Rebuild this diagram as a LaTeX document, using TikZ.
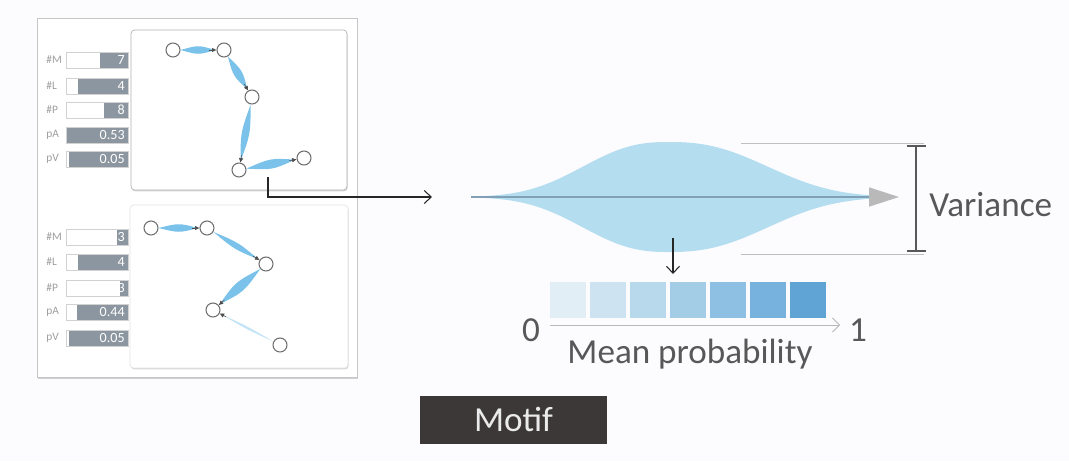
\documentclass[tikz,border=0pt]{standalone}
\usepackage{fontspec}
\setmainfont{Carlito}
\usepackage{tikz}
\usetikzlibrary{positioning,arrows.meta,calc,shadows}
\definecolor{EdgeBlue}{RGB}{122,194,234}
\definecolor{ViolinBlue}{RGB}{180,221,240}
\definecolor{MidLine}{RGB}{128,160,182}
\definecolor{BarGray}{RGB}{140,150,160}
\definecolor{TextGray}{RGB}{88,88,88}
\definecolor{MotifDark}{RGB}{60,56,56}
\definecolor{Cell1}{RGB}{225,238,246}
\definecolor{Cell2}{RGB}{205,227,242}
\definecolor{Cell3}{RGB}{184,216,236}
\definecolor{Cell4}{RGB}{163,205,230}
\definecolor{Cell5}{RGB}{141,192,226}
\definecolor{Cell6}{RGB}{118,178,221}
\definecolor{Cell7}{RGB}{96,163,213}

\newcommand{\lensedge}[4][EdgeBlue]{%
  \fill[#1] ($(#2)!0.15cm!(#3)$) .. controls ($(#2)!0.5!(#3)!#4!90:(#3)$) .. ($(#3)!0.18cm!(#2)$)
    .. controls ($(#2)!0.5!(#3)!#4!-90:(#3)$) .. ($(#2)!0.15cm!(#3)$) -- cycle;
  \draw[tip] ($(#3)!0.3cm!(#2)$) -- ($(#3)!0.15cm!(#2)$);
}

\begin{document}
\begin{tikzpicture}[
  x=0.02cm, y=-0.02cm,
  panel/.style={draw=gray!45,fill=white,drop shadow={shadow xshift=0.6pt,shadow yshift=-1pt,opacity=0.35}},
  card/.style={draw=gray!60,fill=white,rounded corners=2pt,drop shadow={shadow xshift=0.4pt,shadow yshift=-0.8pt,opacity=0.3}},
  gnode/.style={circle,draw=gray!85!black,line width=0.6pt,fill=white,minimum size=0.28cm,inner sep=0pt},
  tip/.style={-{Latex[length=0.9mm,width=0.9mm]},draw=gray!60!black,line width=0.3pt},
  sliderlabel/.style={anchor=west,inner sep=0pt,text=gray!75,font={\fontsize{6.5}{7}\selectfont}},
  sliderbox/.style={draw=gray!35,minimum width=1.24cm,minimum height=0.32cm,inner sep=0pt},
  sliderval/.style={anchor=east,inner sep=0pt,text=white,font={\fontsize{8}{9}\selectfont}},
  conn/.style={-{Straight Barb[length=1.4mm,width=2.6mm]},draw=black!85,line width=0.6pt},
  violin/.style={fill=ViolinBlue},
  biglabel/.style={text=TextGray,inner sep=0pt,font={\fontsize{20}{24}\selectfont}},
  cell/.style={minimum width=0.72cm,minimum height=0.72cm,inner sep=0pt},
  axis/.style={-{Straight Barb[length=1.4mm,width=2.8mm]},draw=gray!55,line width=0.5pt},
  motif/.style={fill=MotifDark,text=white!92!black,minimum width=3.74cm,minimum height=0.96cm,font={\fontsize{20}{24}\selectfont}}
]
\fill[white!98!blue!60!white] (0,0) rectangle (1069,461);
\useasboundingbox (0,0) rectangle (1069,461);

\node[panel,minimum width=6.4cm,minimum height=7.18cm] (panel) at (197,197.5) {};

\foreach \lab/\val/\st/\y [count=\i] in {\#M/7/100/60, \#L/4/78/86, \#P/8/104/110, pA/0.53/66/135, pV/0.05/69/159}{
  \fill[BarGray] ({\st},{\y-8}) rectangle (128,{\y+8});
  \node[sliderbox] (tb\i) at (97,\y) {};
  \node[sliderlabel] (tl\i) at (46,\y) {\lab};
  \node[sliderval] (tv\i) at (125,\y) {\val};
}
\foreach \lab/\val/\st/\y [count=\i] in {\#M/3/117/237, \#L/4/78/262, \#P/3/120/288, pA/0.44/77/312, pV/0.05/69/338}{
  \fill[BarGray] ({\st},{\y-8}) rectangle (128,{\y+8});
  \node[sliderbox] (bb\i) at (97,\y) {};
  \node[sliderlabel] (bl\i) at (46,\y) {\lab};
  \node[sliderval] (bv\i) at (125,\y) {\val};
}

\node[card,minimum width=4.32cm,minimum height=3.2cm] (topcard) at (239,110) {};
\node[card,draw=gray!20,minimum width=4.36cm,minimum height=3.26cm] (botcard) at (239,286.5) {};

\node[gnode] (m1) at (173,50) {};
\node[gnode] (m2) at (224,50) {};
\node[gnode] (m3) at (252,97) {};
\node[gnode] (m4) at (239,170) {};
\node[gnode] (m5) at (304,158) {};
\lensedge{m1}{m2}{0.1cm}
\lensedge{m2}{m3}{0.11cm}
\lensedge{m3}{m4}{0.1cm}
\lensedge{m4}{m5}{0.12cm}

\node[gnode] (n1) at (151,228) {};
\node[gnode] (n2) at (207,228) {};
\node[gnode] (n3) at (266,264) {};
\node[gnode] (n4) at (213,310) {};
\node[gnode] (n5) at (280,345) {};
\lensedge{n1}{n2}{0.1cm}
\lensedge{n2}{n3}{0.08cm}
\lensedge{n3}{n4}{0.13cm}
\lensedge[EdgeBlue!45]{n5}{n4}{0.03cm}

\coordinate (motifout) at (268,177);
\coordinate (violinin) at (432,197);
\draw[conn] (motifout) |- (violinin);

\fill[violin] plot[domain=471:668,samples=60] ({\x},{197-55*exp(0-pow(abs(\x-668)/105+0.001,2.5))})
  -- plot[domain=668:870,samples=60] ({\x},{197-55*exp(0-pow(abs(\x-668)/123+0.001,2.5))})
  -- plot[domain=870:668,samples=60] ({\x},{197+55*exp(0-pow(abs(\x-668)/123+0.001,2.5))})
  -- plot[domain=668:471,samples=60] ({\x},{197+55*exp(0-pow(abs(\x-668)/105+0.001,2.5))})
  -- cycle;
\coordinate (vstart) at (471,197);
\coordinate (vend) at (899,197);
\draw[draw=MidLine,line width=1pt,-{Triangle[length=0.6cm,width=0.38cm,color=gray!55]}] (vstart) -- (vend);

\coordinate (vtopl) at (741,143);
\coordinate (vtopr) at (924,143);
\coordinate (vbotl) at (741,254);
\coordinate (vbotr) at (924,254);
\draw[gray!50,line width=0.4pt] (vtopl) -- (vtopr);
\draw[gray!50,line width=0.4pt] (vbotl) -- (vbotr);
\coordinate (vartop) at (916,145);
\coordinate (varbot) at (916,252);
\draw[draw=TextGray,line width=1.1pt,{Bar[width=0.38cm]}-{Bar[width=0.38cm]}] (vartop) -- (varbot);
\node[biglabel,anchor=west] (variance) at (929,205) {Variance};

\coordinate (vmean) at (673,238);
\coordinate (meanpt) at (673,274);
\draw[conn] (vmean) -- (meanpt);

\foreach \i in {1,...,7}{
  \node[cell,fill=Cell\i] (q\i) at ({528+40*\i},300) {};
}
\node[biglabel] (zero) at (531,330) {0};
\node[biglabel] (one) at (858,330) {1};
\draw[axis,shorten <=0.38cm,shorten >=0.36cm] ([yshift=0.1cm]zero.center) -- ([yshift=0.1cm]one.center);
\node[biglabel] (meanlabel) at (690,354) {Mean probability};

\node[motif] (motif) at (513.5,419.5) {Motif};
\end{tikzpicture}
\end{document}
